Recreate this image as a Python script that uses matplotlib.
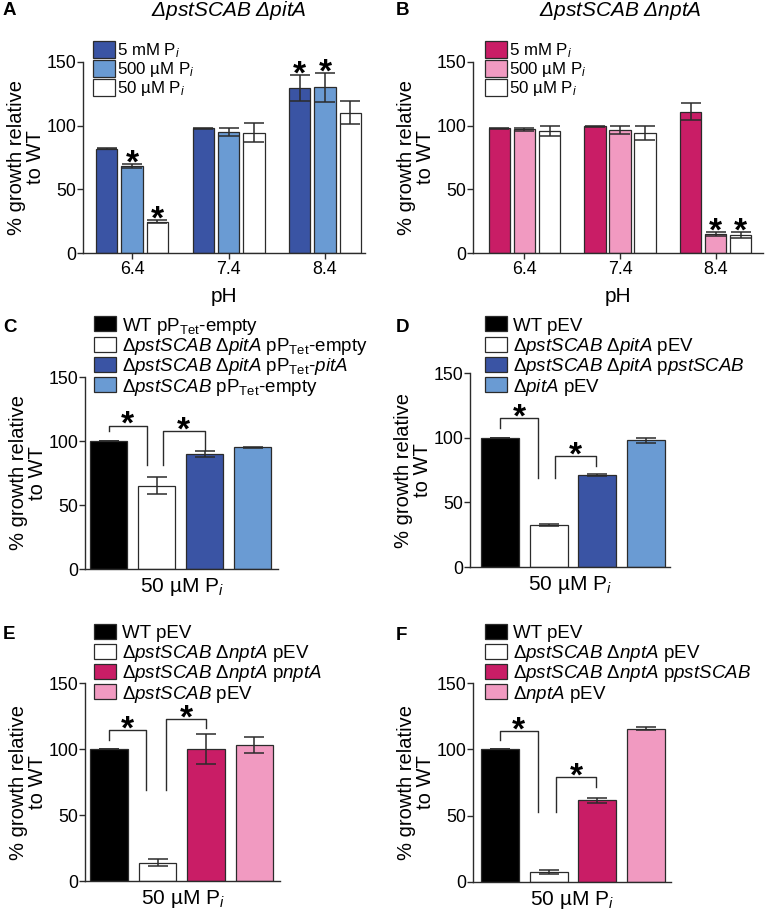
import matplotlib
matplotlib.use('Agg')
import matplotlib.pyplot as plt
from matplotlib.patches import Rectangle
import numpy as np

plt.rcParams['font.family'] = ['Liberation Sans', 'DejaVu Sans']
plt.rcParams['mathtext.fontset'] = 'custom'
plt.rcParams['mathtext.rm'] = 'Liberation Sans'
plt.rcParams['mathtext.it'] = 'Liberation Sans:italic'
plt.rcParams['mathtext.bf'] = 'Liberation Sans:bold'

# ---------------- data ----------------
ph_labels = ['6.4', '7.4', '8.4']
conc_labels = ['5 mM P$_i$', '500 µM P$_i$', '50 µM P$_i$']

# Panel A: ΔpstSCAB ΔpitA
a_5mM = [82, 98, 129.5]
a_5mM_err = [0.5, 0.5, 10.5]
a_500uM = [68.5, 95, 130]
a_500uM_err = [1.5, 3.5, 11.5]
a_50uM = [24.5, 94.5, 110]
a_50uM_err = [1.2, 7.5, 9]
a_sig = [[False, False, True], [True, False, True], [True, False, False]]

# Panel B: ΔpstSCAB ΔnptA
b_5mM = [98, 99.5, 111]
b_5mM_err = [0.5, 0.3, 6.5]
b_500uM = [97, 96.5, 15]
b_500uM_err = [1.5, 3.2, 1.5]
b_50uM = [96, 94.5, 14]
b_50uM_err = [4, 5.5, 2.5]
b_sig = [[False, False, False], [False, False, True], [False, False, True]]

# Panels C-F (50 µM Pi)
c_labels = ['WT pP$_{\\mathrm{Tet}}$-empty',
            'Δ$\\mathit{pstSCAB}$ Δ$\\mathit{pitA}$ pP$_{\\mathrm{Tet}}$-empty',
            'Δ$\\mathit{pstSCAB}$ Δ$\\mathit{pitA}$ pP$_{\\mathrm{Tet}}$-$\\mathit{pitA}$',
            'Δ$\\mathit{pstSCAB}$ pP$_{\\mathrm{Tet}}$-empty']
c_vals = [100, 65, 90, 95]
c_err = [0, 6.5, 2.2, 0.3]

d_labels = ['WT pEV',
            'Δ$\\mathit{pstSCAB}$ Δ$\\mathit{pitA}$ pEV',
            'Δ$\\mathit{pstSCAB}$ Δ$\\mathit{pitA}$ p$\\mathit{pstSCAB}$',
            'Δ$\\mathit{pitA}$ pEV']
d_vals = [100, 32.5, 71, 98]
d_err = [0, 0.5, 1, 1.8]

e_labels = ['WT pEV',
            'Δ$\\mathit{pstSCAB}$ Δ$\\mathit{nptA}$ pEV',
            'Δ$\\mathit{pstSCAB}$ Δ$\\mathit{nptA}$ p$\\mathit{nptA}$',
            'Δ$\\mathit{pstSCAB}$ pEV']
e_vals = [100, 14, 100, 103]
e_err = [0, 3, 11, 6]

f_labels = ['WT pEV',
            'Δ$\\mathit{pstSCAB}$ Δ$\\mathit{nptA}$ pEV',
            'Δ$\\mathit{pstSCAB}$ Δ$\\mathit{nptA}$ p$\\mathit{pstSCAB}$',
            'Δ$\\mathit{nptA}$ pEV']
f_vals = [100, 7.5, 61.5, 115.5]
f_err = [0, 1.5, 1.8, 1.2]

# significance brackets: (x_left, x_right, y_left_end, y_top, y_right_end)
c_brackets = [(0, 0.80, 107.6, 112.0, 81.5), (1.14, 2.0, 81.5, 107.6, 93.2)]
d_brackets = [(0, 0.79, 107.8, 115.0, 68.8), (1.12, 1.97, 68.8, 85.6, 77.8)]
e_brackets = [(0, 0.76, 106.5, 114.1, 68.6), (1.18, 2.0, 68.6, 122.7, 115.9)]
f_brackets = [(0, 0.77, 106.8, 113.8, 52.8), (1.14, 1.98, 52.8, 79.1, 71.6)]

# ---------------- style ----------------
DARK_BLUE = '#3A54A4'
LIGHT_BLUE = '#6A9BD3'
MAGENTA = '#C91D66'
PINK = '#F19AC1'
EDGE = '#2b2b2b'

W, H = 766, 915
fig = plt.figure(figsize=(W / 100, H / 100), dpi=100)


def make_ax(rect, xlim):
    l, t, r, b = rect
    ax = fig.add_axes([l / W, 1 - b / H, (r - l) / W, (b - t) / H])
    ax.set_xlim(*xlim)
    ax.set_ylim(0, 150)
    for s in ('top', 'right'):
        ax.spines[s].set_visible(False)
    for s in ('left', 'bottom'):
        ax.spines[s].set_color(EDGE)
        ax.spines[s].set_linewidth(1.0)
    ax.set_yticks([0, 50, 100, 150])
    ax.tick_params(direction='out', length=4, width=1.0, color=EDGE,
                   labelsize=12.8, pad=1)
    ax.set_ylabel('% growth relative\nto WT', fontsize=14.5, linespacing=1.0)
    lbl_x = l - 38
    ax.yaxis.set_label_coords((lbl_x - l) / (r - l), 0.5)
    return ax


def star(ax, x, yref):
    ax.annotate('*', (x, yref), xytext=(0, -6.0), textcoords='offset points',
                ha='center', va='baseline', fontsize=24, fontweight='bold',
                annotation_clip=False)


def legend(x0, yc0, spacing, pw, ph, colors, labels, fs, tx):
    for i, (c, lab) in enumerate(zip(colors, labels)):
        yc = yc0 + i * spacing
        fig.add_artist(Rectangle((x0 / W, 1 - (yc + ph / 2) / H), pw / W, ph / H,
                                 transform=fig.transFigure, facecolor=c,
                                 edgecolor=EDGE, lw=0.9))
        fig.text(tx / W, 1 - (yc + 0.36 * fs * 100 / 72) / H, lab, fontsize=fs,
                 va='baseline', ha='left')


def grouped_panel(rect, xlim, series, errs, colors, sig, title, tcx, leg_x, leg_tx):
    ax = make_ax(rect, xlim)
    x = np.arange(len(ph_labels))
    offs = [-0.262, 0, 0.262]
    for k in range(3):
        ax.bar(x + offs[k], series[k], 0.222, color=colors[k], edgecolor=EDGE,
               linewidth=0.9, yerr=errs[k], capsize=7,
               error_kw=dict(elinewidth=1.1, capthick=1.1, ecolor=EDGE), zorder=2)
        for j in range(3):
            if sig[k][j]:
                star(ax, x[j] + offs[k], series[k][j] + errs[k][j])
    ax.set_xticks(x)
    ax.set_xticklabels(ph_labels)
    ax.tick_params(axis='x', pad=2)
    ax.set_xlabel('pH', fontsize=15, labelpad=6)
    fig.text(tcx / W, 1 - 11 / H, title, fontsize=15, ha='center', va='center',
             style='italic')
    legend(leg_x, 49, 19, 22, 17, colors, conc_labels, 12.2, leg_tx)
    return ax


def single_panel(rect, xlim, vals, err, colors, labels, brackets, leg_x, leg_tx, leg_y0):
    ax = make_ax(rect, xlim)
    x = np.arange(len(vals))
    ax.bar(x, vals, 0.78, color=colors, edgecolor=EDGE, linewidth=0.9,
           yerr=err, capsize=7,
           error_kw=dict(elinewidth=1.1, capthick=1.1, ecolor=EDGE), zorder=2)
    ax.set_xticks([])
    ax.set_xlabel('50 µM P$_i$', fontsize=15, labelpad=5)
    for (x1, x2, yl, yt, yr) in brackets:
        ax.plot([x1, x1, x2, x2], [yl, yt, yt, yr], color=EDGE, lw=1.0,
                clip_on=False, zorder=3)
        star(ax, (x1 + x2) / 2, yt)
    legend(leg_x, leg_y0, 20.3, 22, 15, colors, labels, 13.5, leg_tx)
    return ax


grouped_panel((83, 62, 365, 253), (-0.508, 2.414),
              [a_5mM, a_500uM, a_50uM], [a_5mM_err, a_500uM_err, a_50uM_err],
              [DARK_BLUE, LIGHT_BLUE, 'white'], a_sig,
              'Δ$\\mathit{pstSCAB}$ Δ$\\mathit{pitA}$', 229, 93, 117)
grouped_panel((473, 62, 763, 253), (-0.539, 2.497),
              [b_5mM, b_500uM, b_50uM], [b_5mM_err, b_500uM_err, b_50uM_err],
              [MAGENTA, PINK, 'white'], b_sig,
              'Δ$\\mathit{pstSCAB}$ Δ$\\mathit{nptA}$', 620, 485, 509)

single_panel((85, 377, 278, 569), (-0.49, 3.53), c_vals, c_err,
             ['black', 'white', DARK_BLUE, LIGHT_BLUE], c_labels, c_brackets,
             94, 122, 324)
single_panel((470, 373, 670, 567), (-0.616, 3.49), d_vals, d_err,
             ['black', 'white', DARK_BLUE, LIGHT_BLUE], d_labels, d_brackets,
             485, 513, 324)
single_panel((85, 683, 280, 881), (-0.495, 3.526), e_vals, e_err,
             ['black', 'white', MAGENTA, PINK], e_labels, e_brackets,
             94, 122, 631)
single_panel((473, 683, 671, 882), (-0.554, 3.51), f_vals, f_err,
             ['black', 'white', MAGENTA, PINK], f_labels, f_brackets,
             485, 513, 631)

# panel letters
for letter, (px, py) in zip('ABCDEF', [(3, 2), (396, 2), (3, 319), (396, 319),
                                       (3, 626), (396, 627)]):
    fig.text(px / W, 1 - py / H, letter, fontsize=13.5, fontweight='bold',
             ha='left', va='top')

fig.savefig('out.png', dpi=100)
